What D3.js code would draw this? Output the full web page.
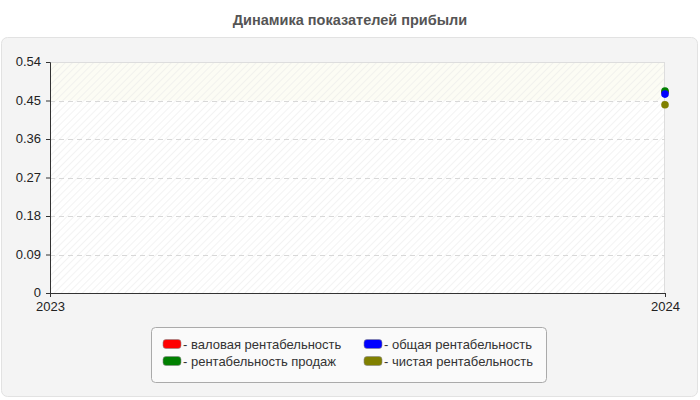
<!DOCTYPE html>
<html><head><meta charset="utf-8">
<script src="https://cdn.jsdelivr.net/npm/d3@7"></script>
<style>body{margin:0;background:#fff;font-family:Arial,"Liberation Sans",sans-serif;}</style>
</head><body>
<svg id="c" width="700" height="400"></svg>
<script>
const years = ["2023", "2024"];
const seriesNames = ["валовая рентабельность", "рентабельность продаж", "общая рентабельность", "чистая рентабельность"];
const seriesColors = ["#ff0000", "#008000", "#0000ff", "#808000"];
const grossMargin = [null, 0.47];
const salesMargin = [null, 0.472];
const totalMargin = [null, 0.465];
const netMargin = [null, 0.44];
const yTicks = [0, 0.09, 0.18, 0.27, 0.36, 0.45, 0.54];
const legendOrder = [0, 2, 1, 3];
const seriesValues = [grossMargin, salesMargin, totalMargin, netMargin];

const svg = d3.select("#c");
const m = {l: 50, r: 665, t: 62, b: 293};
const FONT = "Arial, 'Liberation Sans', sans-serif";

// title
svg.append("text").attr("x", 350).attr("y", 25).attr("text-anchor", "middle")
  .attr("font-size", 14.5).attr("font-weight", "bold").attr("fill", "#555").attr("font-family", FONT)
  .text("Динамика показателей прибыли");

// panel
svg.append("rect").attr("x", 1.5).attr("y", 37.5).attr("width", 696).attr("height", 359)
  .attr("rx", 6).attr("fill", "#f4f4f4").attr("stroke", "#e2e2e2");

const defs = svg.append("defs");
const pat = defs.append("pattern").attr("id", "hatch").attr("patternUnits", "userSpaceOnUse")
  .attr("width", 5).attr("height", 5).attr("patternTransform", "rotate(45)");
pat.append("line").attr("x1", 0).attr("y1", 0).attr("x2", 0).attr("y2", 5)
  .attr("stroke", "#e6e6e6").attr("stroke-width", 1.2);

const x = d3.scalePoint().domain(years).range([m.l, m.r]);
const y = d3.scaleLinear().domain([0, 0.54]).range([m.b, m.t]);

// plot background
svg.append("rect").attr("x", m.l).attr("y", m.t).attr("width", m.r - m.l).attr("height", m.b - m.t)
  .attr("fill", "#ffffff");
svg.append("rect").attr("x", m.l).attr("y", y(0.54)).attr("width", m.r - m.l).attr("height", y(0.45) - y(0.54))
  .attr("fill", "#fcfcf4");
svg.append("rect").attr("x", m.l).attr("y", m.t).attr("width", m.r - m.l).attr("height", m.b - m.t)
  .attr("fill", "url(#hatch)").attr("opacity", 0.8);
svg.append("rect").attr("x", m.l + 0.5).attr("y", m.t + 0.5).attr("width", m.r - m.l - 1).attr("height", m.b - m.t)
  .attr("fill", "none").attr("stroke", "#dddddd");

// grid
svg.append("g").selectAll("line").data(yTicks.filter(t => t > 0 && t < 0.54)).join("line")
  .attr("x1", m.l).attr("x2", m.r).attr("y1", d => Math.round(y(d)) + 0.5).attr("y2", d => Math.round(y(d)) + 0.5)
  .attr("stroke", "#d8d8d8").attr("stroke-dasharray", "5,4");

// axes
const yAxis = svg.append("g").attr("transform", `translate(${m.l},0)`)
  .call(d3.axisLeft(y).tickValues(yTicks).tickSize(4).tickPadding(5).tickFormat(d => d === 0 ? "0" : d3.format(".2f")(d)));
const xAxis = svg.append("g").attr("transform", `translate(0,${m.b})`)
  .call(d3.axisBottom(x).tickSize(4).tickPadding(5));
[yAxis, xAxis].forEach(a => {
  a.select(".domain").attr("stroke", "#333");
  a.selectAll(".tick line").attr("stroke", "#333");
  a.selectAll("text").attr("font-size", 13).attr("fill", "#222").attr("font-family", FONT);
});
yAxis.selectAll("text").attr("dy", "0.30em");
yAxis.select(".domain").attr("d", `M-4,${m.t}.5H0.5V${m.b}.5`);
xAxis.select(".domain").attr("d", `M${m.l},0.5H${m.r}`);

// points
seriesValues.forEach((vals, si) => {
  svg.append("g").selectAll("circle")
    .data(vals.map((v, i) => ({v, yr: years[i]})).filter(d => d.v != null)).join("circle")
    .attr("cx", d => x(d.yr)).attr("cy", d => y(d.v)).attr("r", 3.8)
    .attr("fill", seriesColors[si]);
});

// legend
const lg = svg.append("g");
lg.append("rect").attr("x", 151.5).attr("y", 327.5).attr("width", 395).attr("height", 55)
  .attr("rx", 4).attr("fill", "#fafafa").attr("stroke", "#aaaaaa");
legendOrder.forEach((si, k) => {
  const col = k % 2, row = Math.floor(k / 2);
  const gx = 163 + col * 201, gy = 339.5 + row * 17;
  lg.append("rect").attr("x", gx).attr("y", gy).attr("width", 18).attr("height", 9).attr("rx", 3)
    .attr("fill", seriesColors[si]).attr("stroke", "#888").attr("stroke-width", 0.6);
  lg.append("text").attr("x", gx + 20).attr("y", gy + 9.5).attr("font-size", 13).attr("fill", "#333")
    .attr("font-family", FONT).text("- " + seriesNames[si]);
});
</script>
</body></html>
